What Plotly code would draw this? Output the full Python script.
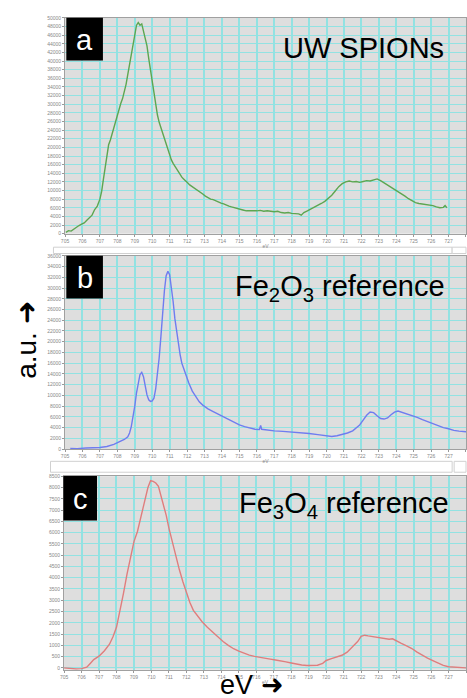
import plotly.graph_objects as go

W, H = 467, 698

# ---- Panel a: UW SPIONs (Fe L-edge, arbitrary units) ----
ev_a = [705.05, 705.2, 705.35, 705.5, 705.65, 705.8, 705.95, 706.1, 706.25, 706.4,
        706.55, 706.7, 706.85, 707.0, 707.1, 707.2, 707.3, 707.4, 707.5, 707.6,
        707.7, 707.8, 707.9, 708.0, 708.1, 708.2, 708.3, 708.4, 708.5, 708.6,
        708.7, 708.8, 708.9, 709.0, 709.1, 709.2, 709.3, 709.4, 709.5, 709.6,
        709.7, 709.8, 709.9, 710.0, 710.1, 710.2, 710.3, 710.4, 710.5, 710.6,
        710.7, 710.8, 710.9, 711.0, 711.1, 711.2, 711.3, 711.4, 711.5, 711.6,
        711.7, 711.8, 711.9, 712.0, 712.15, 712.3, 712.45, 712.6, 712.75, 712.9,
        713.05, 713.2, 713.35, 713.5, 713.65, 713.8, 713.95, 714.1, 714.25, 714.4,
        714.55, 714.7, 714.85, 715.0, 715.2, 715.4, 715.6, 715.8, 716.0, 716.2,
        716.4, 716.6, 716.8, 717.0, 717.2, 717.4, 717.6, 717.8, 718.0, 718.2,
        718.4, 718.55, 718.7, 718.9, 719.1, 719.3, 719.5, 719.7, 719.9, 720.1,
        720.3, 720.5, 720.7, 720.9, 721.1, 721.3, 721.5, 721.7, 721.9, 722.1,
        722.3, 722.5, 722.7, 722.9, 723.1, 723.3, 723.5, 723.7, 723.9, 724.1,
        724.3, 724.5, 724.7, 724.9, 725.1, 725.3, 725.5, 725.7, 725.9, 726.1,
        726.3, 726.5, 726.7, 726.8, 726.9]
int_a = [300, 700, 600, 1100, 1400, 1900, 2200, 2500, 3100, 3600,
         4300, 5600, 6400, 8000, 9800, 12600, 15500, 18300, 20600, 21700,
         23200, 24300, 25600, 27300, 28900, 30200, 31300, 32900, 34600, 36900,
         39300, 41800, 44500, 46400, 48300, 48900, 48300, 48600, 47100, 45300,
         43500, 40600, 37800, 34800, 32200, 29800, 27500, 25800, 24500, 23300,
         21800, 20600, 19400, 18200, 17100, 16300, 15600, 15000, 14500, 13700,
         13100, 12700, 12200, 11900, 11300, 10900, 10600, 10100, 9700, 9200,
         8700, 8400, 8000, 7900, 7600, 7400, 7100, 6900, 6600, 6400,
         6200, 6000, 5800, 5600, 5500, 5300, 5300, 5200, 5300, 5400,
         5200, 5300, 5200, 5100, 5200, 4900, 4800, 4900, 4700, 4700,
         4600, 4300, 4900, 5300, 5700, 6200, 6600, 7000, 7500, 8100,
         8900, 9900, 10900, 11600, 12000, 12200, 12000, 12100, 11900, 12100,
         12300, 12200, 12400, 12700, 12300, 11800, 11300, 10900, 10400, 9800,
         9300, 8700, 8100, 7600, 7200, 7000, 6900, 6800, 6600, 6500,
         6200, 6000, 6100, 6500, 6000]

# ---- Panel b: Fe2O3 reference ----
ev_b = [705.3, 705.7, 706.2, 706.6, 707.0, 707.4, 707.8, 708.1, 708.4, 708.6,
        708.7, 708.8, 708.9, 709.0, 709.1, 709.2, 709.3, 709.4, 709.5, 709.6,
        709.7, 709.8, 709.9, 710.0, 710.1, 710.2, 710.3, 710.4, 710.5, 710.6,
        710.7, 710.8, 710.9, 711.0, 711.1, 711.2, 711.3, 711.4, 711.5, 711.6,
        711.7, 711.9, 712.1, 712.3, 712.5, 712.7, 712.9, 713.2, 713.5, 713.8,
        714.1, 714.4, 714.7, 715.0, 715.3, 715.6, 715.9, 716.15, 716.22, 716.28,
        716.6, 717.0, 717.5, 718.0, 718.5, 719.0, 719.5, 720.0, 720.3, 720.6,
        720.9, 721.2, 721.5, 721.7, 721.9, 722.1, 722.3, 722.5, 722.7, 722.9,
        723.1, 723.3, 723.5, 723.7, 723.9, 724.1, 724.3, 724.6, 724.9, 725.2,
        725.5, 725.8, 726.1, 726.4, 726.7, 727.0, 727.3, 727.6, 728.0]
int_b = [150, 100, 200, 250, 300, 500, 900, 1350, 1800, 2300,
         3000, 4200, 6000, 8000, 10500, 12600, 13900, 14300, 13500, 11800,
         10100, 9200, 8900, 9000, 9500, 11200, 13600, 17000, 21000, 25500,
         29500, 32300, 33100, 32500, 30200, 27500, 24300, 21800, 19700, 17600,
         16000, 14000, 12300, 10800, 9700, 8800, 8200, 7500, 7000, 6500,
         6000, 5400, 4900, 4500, 4200, 3900, 3700, 3650, 4400, 3700,
         3550, 3400, 3300, 3200, 3100, 2900, 2700, 2500, 2350, 2500,
         2700, 3000, 3400, 3900, 4500, 5400, 6300, 6900, 6800, 6200,
         5700, 5600, 5800, 6400, 6900, 7100, 6900, 6600, 6300, 5900,
         5500, 5100, 4700, 4300, 4000, 3800, 3500, 3350, 3250]

# ---- Panel c: Fe3O4 reference ----
ev_c = [705.0, 705.3, 705.7, 706.0, 706.3, 706.5, 706.7, 707.0, 707.3, 707.6,
        707.8, 708.0, 708.2, 708.4, 708.6, 708.8, 709.0, 709.2, 709.4, 709.6,
        709.8, 709.95, 710.1, 710.25, 710.4, 710.55, 710.7, 710.85, 711.0, 711.2,
        711.4, 711.6, 711.8, 712.0, 712.2, 712.4, 712.6, 712.9, 713.2, 713.5,
        713.8, 714.1, 714.4, 714.7, 715.0, 715.3, 715.6, 715.9, 716.2, 716.5,
        716.8, 717.1, 717.4, 717.7, 718.0, 718.3, 718.6, 718.9, 719.2, 719.5,
        719.8, 720.0, 720.3, 720.6, 720.9, 721.2, 721.5, 721.8, 722.0, 722.2,
        722.4, 722.7, 723.0, 723.3, 723.6, 723.8, 724.0, 724.3, 724.6, 724.9,
        725.2, 725.5, 725.8, 726.1, 726.4, 726.7, 727.0, 727.3, 727.6, 728.0]
int_c = [0, -30, -50, -30, 30, 200, 370, 520, 750, 1050,
         1380, 1800, 2500, 3300, 4150, 4950, 5600, 6050, 6650, 7350,
         8000, 8300, 8270, 8200, 8050, 7650, 7250, 6750, 6200, 5550,
         4950, 4350, 3820, 3350, 2900, 2550, 2330, 2050, 1800, 1580,
         1350, 1170, 1000, 850, 740, 650, 570, 510, 460, 430,
         390, 350, 320, 270, 220, 170, 130, 110, 100, 120,
         200, 330, 410, 470, 560, 700, 920, 1170, 1400, 1450,
         1420, 1380, 1340, 1290, 1270, 1290, 1200, 1090, 980, 860,
         700, 550, 430, 320, 210, 110, 50, 40, 20, 0]

titles = ["UW SPIONs", "Fe<sub>2</sub>O<sub>3</sub> reference", "Fe<sub>3</sub>O<sub>4</sub> reference"]
letters = ["a", "b", "c"]
x_ticks = list(range(705, 729))


def px(x):
    return x / W


def py(y):
    return 1 - y / H


panels = [
    # (energies, intensities, colour, y range, y step, x domain left px, plot top px, plot bottom px)
    (ev_a, int_a, "#5da650", [0, 50000], 2000, 61.7, 15.0, 232.7),
    (ev_b, int_b, "#6f7cf0", [0, 36000], 2000, 61.7, 255.0, 450.0),
    (ev_c, int_c, "#e07d7d", [-80, 8500], 500, 60.7, 477.3, 672.5),
]

fig = go.Figure()
layout = dict(
    width=W, height=H, margin=dict(l=0, r=0, t=0, b=0),
    paper_bgcolor="white", plot_bgcolor="#dedede", showlegend=False,
    font=dict(family="Liberation Sans, Arial, sans-serif", color="black"),
)

grid = "#92e2e2"
shapes, annotations = [], []
for i, (xs, ys, col, yr, ystep, xl, top, bot) in enumerate(panels):
    n = "" if i == 0 else str(i + 1)
    fig.add_trace(go.Scatter(x=xs, y=ys, mode="lines", line=dict(color=col, width=1.4),
                             xaxis="x" + n, yaxis="y" + n, hoverinfo="skip"))
    layout["xaxis" + n] = dict(
        domain=[px(xl), 1], range=[705, 728], anchor="y" + n,
        tickvals=x_ticks, ticktext=[str(v) for v in x_ticks],
        tickfont=dict(size=5, color="#888"), ticks="outside", ticklen=2, tickcolor="#999",
        showgrid=True, gridcolor=grid, gridwidth=1.8, zeroline=False,
        showline=True, linecolor="#a0a0a0", linewidth=1, mirror=True,
        title=dict(text="eV", font=dict(size=5, color="#888"), standoff=1),
    )
    yv = list(range(0, int(yr[1]) + 1, ystep))
    layout["yaxis" + n] = dict(
        domain=[py(bot), py(top)], range=yr, anchor="x" + n,
        tickvals=yv, ticktext=[str(v) for v in yv],
        tickfont=dict(size=5, color="#888"), ticks="outside", ticklen=2, tickcolor="#999",
        showgrid=True, gridcolor=grid, gridwidth=1.4, zeroline=False,
        showline=True, linecolor="#a0a0a0", linewidth=1, mirror=True,
    )

# black panel-letter boxes
boxes = [(63, 15, 100, 58), (63, 255, 100, 298), (60, 477, 94, 522)]
for (x0, y0, x1, y1), letter in zip(boxes, letters):
    shapes.append(dict(type="rect", xref="paper", yref="paper", x0=px(x0), x1=px(x1),
                       y0=py(y1), y1=py(y0), fillcolor="black", line=dict(width=0)))
    annotations.append(dict(text=letter, xref="paper", yref="paper", x=px((x0 + x1) / 2),
                            y=py((y0 + y1) / 2 + 1), xanchor="center", yanchor="middle",
                            showarrow=False, font=dict(size=29, color="white")))

# panel titles, right-aligned
title_pos = [(447, 45), (448, 287), (452, 506)]
for (xr, yc), t in zip(title_pos, titles):
    annotations.append(dict(text=t, xref="paper", yref="paper", x=px(xr), y=py(yc),
                            xanchor="right", yanchor="middle", showarrow=False,
                            font=dict(size=29, color="black")))

# window scroll bars between panels
for (x0, y0, x1, y1) in [(50, 246.3, 453, 252.7), (453, 246.3, 467, 252.7),
                         (47, 462.3, 453, 473.3), (455, 462.3, 467, 473.3)]:
    shapes.append(dict(type="rect", xref="paper", yref="paper", x0=px(x0), x1=px(x1),
                       y0=py(y1), y1=py(y0), fillcolor="white",
                       line=dict(color="#d0d0d0", width=1)))

# shared axis labels
annotations.append(dict(text="a.u. ➜", xref="paper", yref="paper", x=px(22), y=py(340),
                        xanchor="center", yanchor="middle", textangle=-90, showarrow=False,
                        font=dict(size=28, color="black")))
annotations.append(dict(text="eV ➜", xref="paper", yref="paper", x=px(216), y=py(688),
                        xanchor="left", yanchor="middle", showarrow=False,
                        font=dict(size=27, color="black")))

layout["shapes"] = shapes
layout["annotations"] = annotations
fig.update_layout(**layout)
fig.write_html("out.html")
